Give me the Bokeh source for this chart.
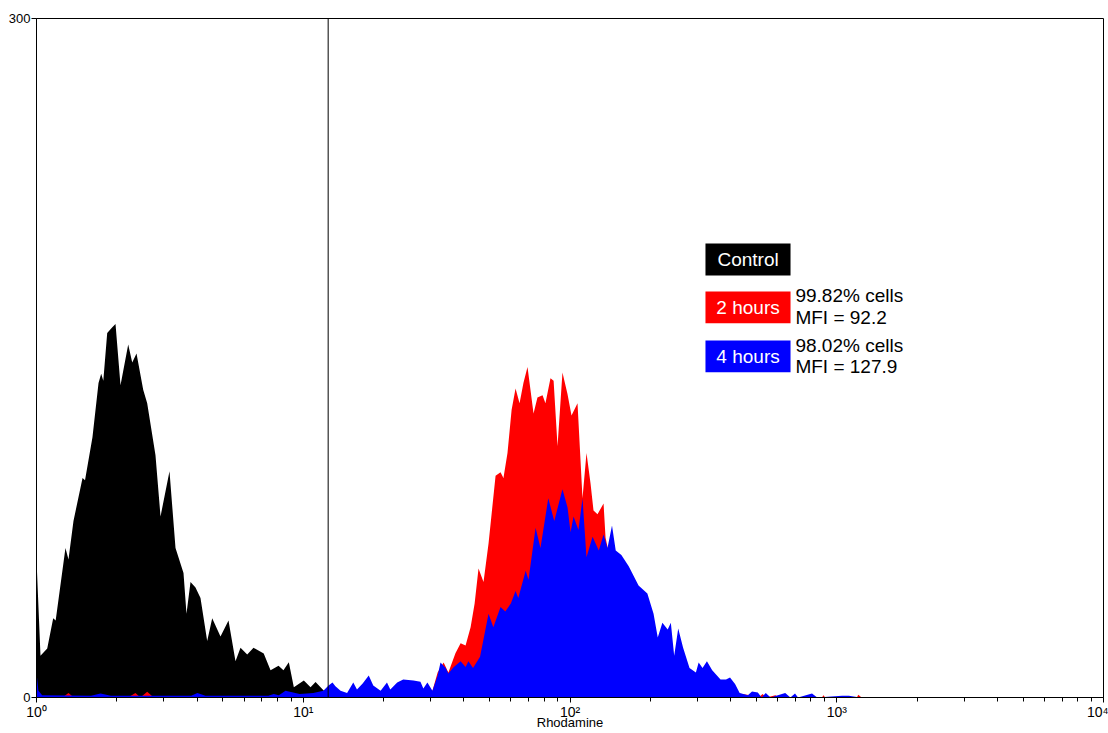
from bokeh.plotting import figure
from bokeh.models import Range1d, FixedTicker, Span, BoxAnnotation, Label
from bokeh.embed import file_html
from bokeh.resources import INLINE

# Rhodamine fluorescence histograms (channel value, event count)
control_x = [1.0, 1.035, 1.097, 1.155, 1.18, 1.284, 1.318, 1.376, 1.488, 1.52,
             1.621, 1.708, 1.748, 1.78, 1.841, 1.92, 1.978, 2.065, 2.207, 2.285,
             2.371, 2.512, 2.60, 2.793, 2.917, 3.152, 3.32, 3.557, 3.65, 3.779,
             3.945, 4.119, 4.364, 4.557, 4.895, 5.246, 5.572, 5.818, 6.165, 6.51,
             7.11, 7.54, 8.078, 8.43, 8.83, 9.22, 10.05, 10.65, 11.12, 12.1, 12.6, 13.0]
control_y = [61, 18.5, 21.6, 35, 34, 66, 61, 78, 97, 96,
             115, 139, 143, 140, 161, 163.5, 165, 138, 156, 148,
             152, 136, 130, 107, 80, 100, 66, 55, 37, 51,
             48.6, 44, 25, 35, 27, 34, 16, 22, 19, 22,
             19.4, 12, 14, 12, 15.6, 4.5, 7.5, 4.5, 6.8, 2.3, 1.5, 0]

hours2_x = [1.0, 1.25, 1.318, 1.38, 2.2, 2.35, 2.45, 2.6, 2.75, 29.0,
            30.5, 31.9, 33.6, 35.0, 37.2, 38.9, 40.6, 42.4, 43.9, 45.4,
            47.4, 49.5, 52.6, 54.9, 56.3, 58.3, 60.4, 62.5, 64.7, 66.9,
            69.3, 73.0, 75.5, 78.9, 80.9, 84.5, 86.8, 89.8, 93.7, 97.9,
            101.3, 106.7, 111.4, 115.3, 119.4, 122.5, 126.8, 133.6, 135.9, 141.9,
            160.0, 183.8, 220.0, 259.6, 366.7, 475.0, 510.0, 527.0, 545.0, 589.0,
            610.0, 880.0, 892.0, 905.0, 1190.0, 1204.0, 1240.0]
hours2_y = [0, 0, 2.0, 0, 0, 2.0, 0, 2.5, 0, 0,
            3, 11, 15.5, 11, 19.5, 24, 23, 31, 41.5, 57,
            51, 68, 98, 99.5, 97, 108, 127, 136.5, 130, 139,
            146, 125.5, 132.5, 133.5, 130, 141, 140, 111, 143.6, 134,
            124.6, 130, 88, 108, 94.5, 82.6, 81, 85.7, 70.7, 60,
            48, 30, 15, 8, 3, 1, 0, 1.5, 0, 1,
            0, 0, 1, 0, 0, 1.2, 0]

hours4_x = [1.0, 1.017, 1.05, 1.6, 1.738, 1.9, 3.8, 4.01, 4.3, 7.4,
            7.75, 8.1, 8.58, 9.7, 10.9, 11.9, 12.44, 12.87, 13.2, 13.8,
            14.6, 15.4, 15.9, 16.7, 17.6, 18.3, 19.5, 20.6, 21.2, 22.5,
            23.7, 25.9, 27.5, 28.2, 29.2, 30.5, 31.9, 32.7, 34.2, 35.0,
            36.6, 38.9, 40.6, 41.6, 43.3, 46.0, 49.5, 51.6, 54.9, 57.2,
            60.0, 62.5, 64.0, 68.2, 69.9, 74.3, 77.5, 82.9, 87.3, 93.7,
            97.9, 100.5, 103.1, 107.6, 111.4, 115.3, 121.5, 128.2, 133.6, 138.2,
            143.7, 148.4, 155.8, 166.0, 180.7, 195.0, 205.7, 213.3, 222.0, 232.4,
            238.8, 245.8, 254.5, 265.5, 280.6, 296.4, 303.6, 313.9, 326.1, 341.3,
            366.7, 384.5, 398.0, 415.7, 432.6, 464.2, 481.2, 506.0, 523.0, 541.8,
            564.7, 641.0, 670.3, 697.5, 716.0, 807.7, 845.0, 1047.0, 1110.0, 1222.0]
hours4_y = [11, 3, 1, 0.8, 1.8, 0.8, 0.8, 2, 0.8, 0.8,
            1.5, 1, 3, 1.5, 2, 3, 5.3, 6.6, 5, 3,
            2, 6.6, 3.5, 6.2, 9.7, 5.3, 3, 6.6, 3.5, 6.6,
            8, 7.5, 7, 4, 6.6, 3, 9.7, 15.5, 13, 10.6,
            13.4, 16, 13.5, 16, 13, 18, 37, 31, 40, 38,
            41.5, 47, 44, 56, 52, 75, 66, 88, 78, 92,
            84, 73, 80, 74, 88, 62, 71, 65, 72, 66,
            76, 65, 63, 58, 49.5, 46, 37, 26.5, 33, 30,
            33, 18.5, 30.5, 22, 13, 11, 15.5, 13, 16, 12,
            8, 8, 8.8, 6, 2, 1, 2.6, 2.2, 0, 2,
            0, 2, 0, 1.8, 0, 1.8, 0, 0.8, 0.8, 0]

decades = [1, 10, 100, 1000, 10000]
decade_labels = ["10⁰", "10¹", "10²", "10³", "10⁴"]
count_ticks = [0, 300]
gate_position = 12.4
x_title = "Rhodamine"

groups = ["Control", "2 hours", "4 hours"]
group_colors = ["#000000", "#ff0000", "#0000ff"]
group_stats = [None, ["99.82% cells", "MFI = 92.2"], ["98.02% cells", "MFI = 127.9"]]

FONT = "Liberation Sans"

p = figure(width=1108, height=733, x_axis_type="log",
           x_range=Range1d(1, 10000), y_range=Range1d(0, 300),
           output_backend="svg", toolbar_location=None,
           min_border_left=36, min_border_right=5,
           min_border_top=18, min_border_bottom=36)
p.grid.visible = False
p.outline_line_color = "black"
p.background_fill_color = "white"
p.border_fill_color = "white"

# filled histograms, later series drawn over earlier ones
p.varea(x=control_x, y1=0, y2=control_y, fill_color=group_colors[0])
p.varea(x=hours2_x, y1=0, y2=hours2_y, fill_color=group_colors[1])
p.varea(x=hours4_x, y1=0, y2=hours4_y, fill_color=group_colors[2])

# positive-gate marker
p.add_layout(Span(location=gate_position, dimension="height",
                  line_color="black", line_width=1))

# x axis: decades with minor ticks at 2..9
minor = [d * k for d in decades[:-1] for k in range(2, 10)]
xa = p.xaxis[0]
xa.ticker = FixedTicker(ticks=decades, minor_ticks=minor)
xa.major_label_overrides = {d: lab for d, lab in zip(decades, decade_labels)}
xa.major_tick_in = 0
xa.major_tick_out = 5
xa.minor_tick_in = 0
xa.minor_tick_out = 4
xa.major_label_standoff = 1
xa.major_label_text_font = FONT
xa.major_label_text_font_size = "14px"
xa.major_label_text_color = "black"
xa.axis_line_color = "black"
xa.axis_label = x_title
xa.axis_label_text_font = FONT
xa.axis_label_text_font_size = "13px"
xa.axis_label_text_font_style = "normal"
xa.axis_label_text_color = "black"
xa.axis_label_standoff = -8   # tuck the title up under the tick labels

ya = p.yaxis[0]
ya.ticker = FixedTicker(ticks=count_ticks, minor_ticks=[])
ya.major_tick_in = 0
ya.major_tick_out = 5
ya.minor_tick_line_color = None
ya.major_label_standoff = 1
ya.major_label_text_font = FONT
ya.major_label_text_font_size = "13px"
ya.major_label_text_color = "black"
ya.axis_line_color = "black"

# legend block: coloured boxes with white names, statistics to the right
box_left, box_right = 322, 671
box_mid_x = 465
stat_x = 700
box_rows = [(186.4, 200.6), (165.4, 179.4), (143.7, 157.7)]
for name, color, stats, (bot, top) in zip(groups, group_colors, group_stats, box_rows):
    p.add_layout(BoxAnnotation(left=box_left, right=box_right, bottom=bot, top=top,
                               fill_color=color, fill_alpha=1.0, line_color=None))
    p.add_layout(Label(x=box_mid_x, y=(bot + top) / 2, text=name,
                       text_align="center", text_baseline="middle",
                       text_color="white", text_font=FONT, text_font_size="19px"))
    if stats:
        mid = (bot + top) / 2
        p.add_layout(Label(x=stat_x, y=mid + 5.0, text=stats[0],
                           text_align="left", text_baseline="middle",
                           text_color="black", text_font=FONT, text_font_size="19px"))
        p.add_layout(Label(x=stat_x, y=mid - 4.6, text=stats[1],
                           text_align="left", text_baseline="middle",
                           text_color="black", text_font=FONT, text_font_size="19px"))

open("out.html", "w").write(file_html(p, INLINE))
